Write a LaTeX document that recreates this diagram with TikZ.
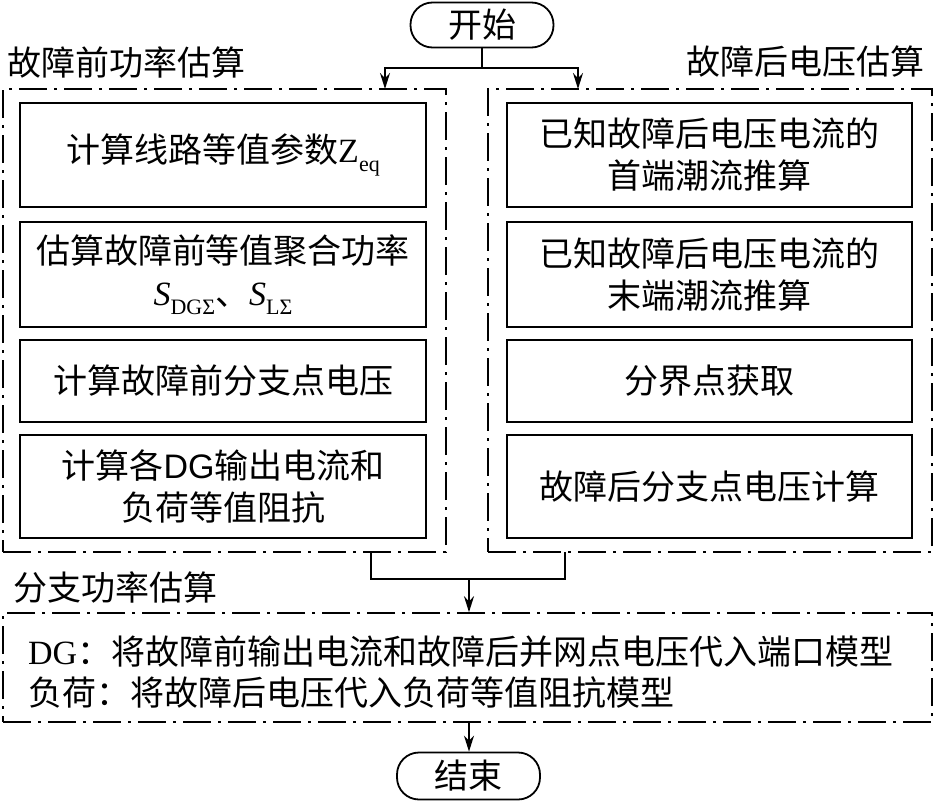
\documentclass[tikz,border=0pt]{standalone}
\usepackage{fontspec}
\setmainfont{Liberation Serif}
\newfontfamily\cjk{Noto Sans CJK SC}
\newfontfamily\lat{Liberation Serif}
\newfontfamily\latsans{Liberation Sans}
\usetikzlibrary{arrows.meta}
\newcommand{\subs}[1]{\raisebox{-0.28em}{\fontsize{22}{22}\selectfont\lat #1}}
\begin{document}
\begin{tikzpicture}[x=1pt,y=-1pt,
  every node/.style={font=\cjk\fontsize{34}{42}\selectfont, inner sep=0pt},
  procbox/.style={draw, line width=1.8pt, align=center},
  dashbox/.style={draw, line width=1.6pt, dash pattern=on 28pt off 7pt on 3pt off 7pt},
  termbox/.style={draw, line width=1.8pt, rounded corners=22pt},
  title/.style={},
  conn/.style={line width=1.8pt},
  arr/.style={line width=1.8pt, -{Stealth[length=16pt,width=10pt]}}]
\useasboundingbox (0,0) rectangle (935,803);
% start
\node[termbox, minimum width=143pt, minimum height=45pt] (start) at (482,25) {开始};
% titles
\node[title] (tL) at (127,62) {故障前功率估算};
\node[title] (tR) at (805,62) {故障后电压估算};
% dash boxes
\node[dashbox, minimum width=443pt, minimum height=463pt] (L) at (224.5,320.5) {};
\node[dashbox, minimum width=444pt, minimum height=463pt] (R) at (710,320.5) {};
% left inner boxes
\node[procbox, minimum width=406pt, minimum height=104pt] (l1) at (223,155) {计算线路等值参数{\lat Z}\subs{eq}};
\node[procbox, minimum width=406pt, minimum height=105pt] (l2) at (223,274.5) {估算故障前等值聚合功率\\{\lat\itshape S}\subs{DGΣ}、{\lat\itshape S}\subs{LΣ}};
\node[procbox, minimum width=406pt, minimum height=82pt] (l3) at (223,381) {计算故障前分支点电压};
\node[procbox, minimum width=406pt, minimum height=103pt] (l4) at (223,486.5) {计算各{\latsans DG}输出电流和\\负荷等值阻抗};
% right inner boxes
\node[procbox, minimum width=405pt, minimum height=104pt] (r1) at (709.5,155) {已知故障后电压电流的\\首端潮流推算};
\node[procbox, minimum width=405pt, minimum height=105pt] (r2) at (709.5,274.5) {已知故障后电压电流的\\末端潮流推算};
\node[procbox, minimum width=405pt, minimum height=82pt] (r3) at (709.5,381) {分界点获取};
\node[procbox, minimum width=405pt, minimum height=103pt] (r4) at (709.5,486.5) {故障后分支点电压计算};
% bottom
\node[title] (tB) at (115,588) {分支功率估算};
\node[dashbox, minimum width=929pt, minimum height=109pt] (B) at (467.5,667.5) {};
\node[anchor=west] (b1) at (28,652) {{\lat DG}：将故障前输出电流和故障后并网点电压代入端口模型};
\node[anchor=west] (b2) at (28,693) {负荷：将故障后电压代入负荷等值阻抗模型};
\node[termbox, minimum width=143pt, minimum height=47pt] (end) at (468.5,776) {结束};
% connectors
\coordinate (j1) at (482,68);
\coordinate (La) at (385,89);
\coordinate (Ra) at (578,89);
\draw[conn] (start.south) -- (j1);
\draw[arr] (j1) -| (La);
\draw[arr] (j1) -| (Ra);
\coordinate (Lb) at (371,552);
\coordinate (Rb) at (565,552);
\coordinate (j2) at (469,579);
\draw[conn] (Lb) |- (j2) -| (Rb);
\draw[arr] (j2) -- (j2 |- B.north);
\draw[arr] (j2 |- B.south) -- (j2 |- end.north);
\end{tikzpicture}
\end{document}
